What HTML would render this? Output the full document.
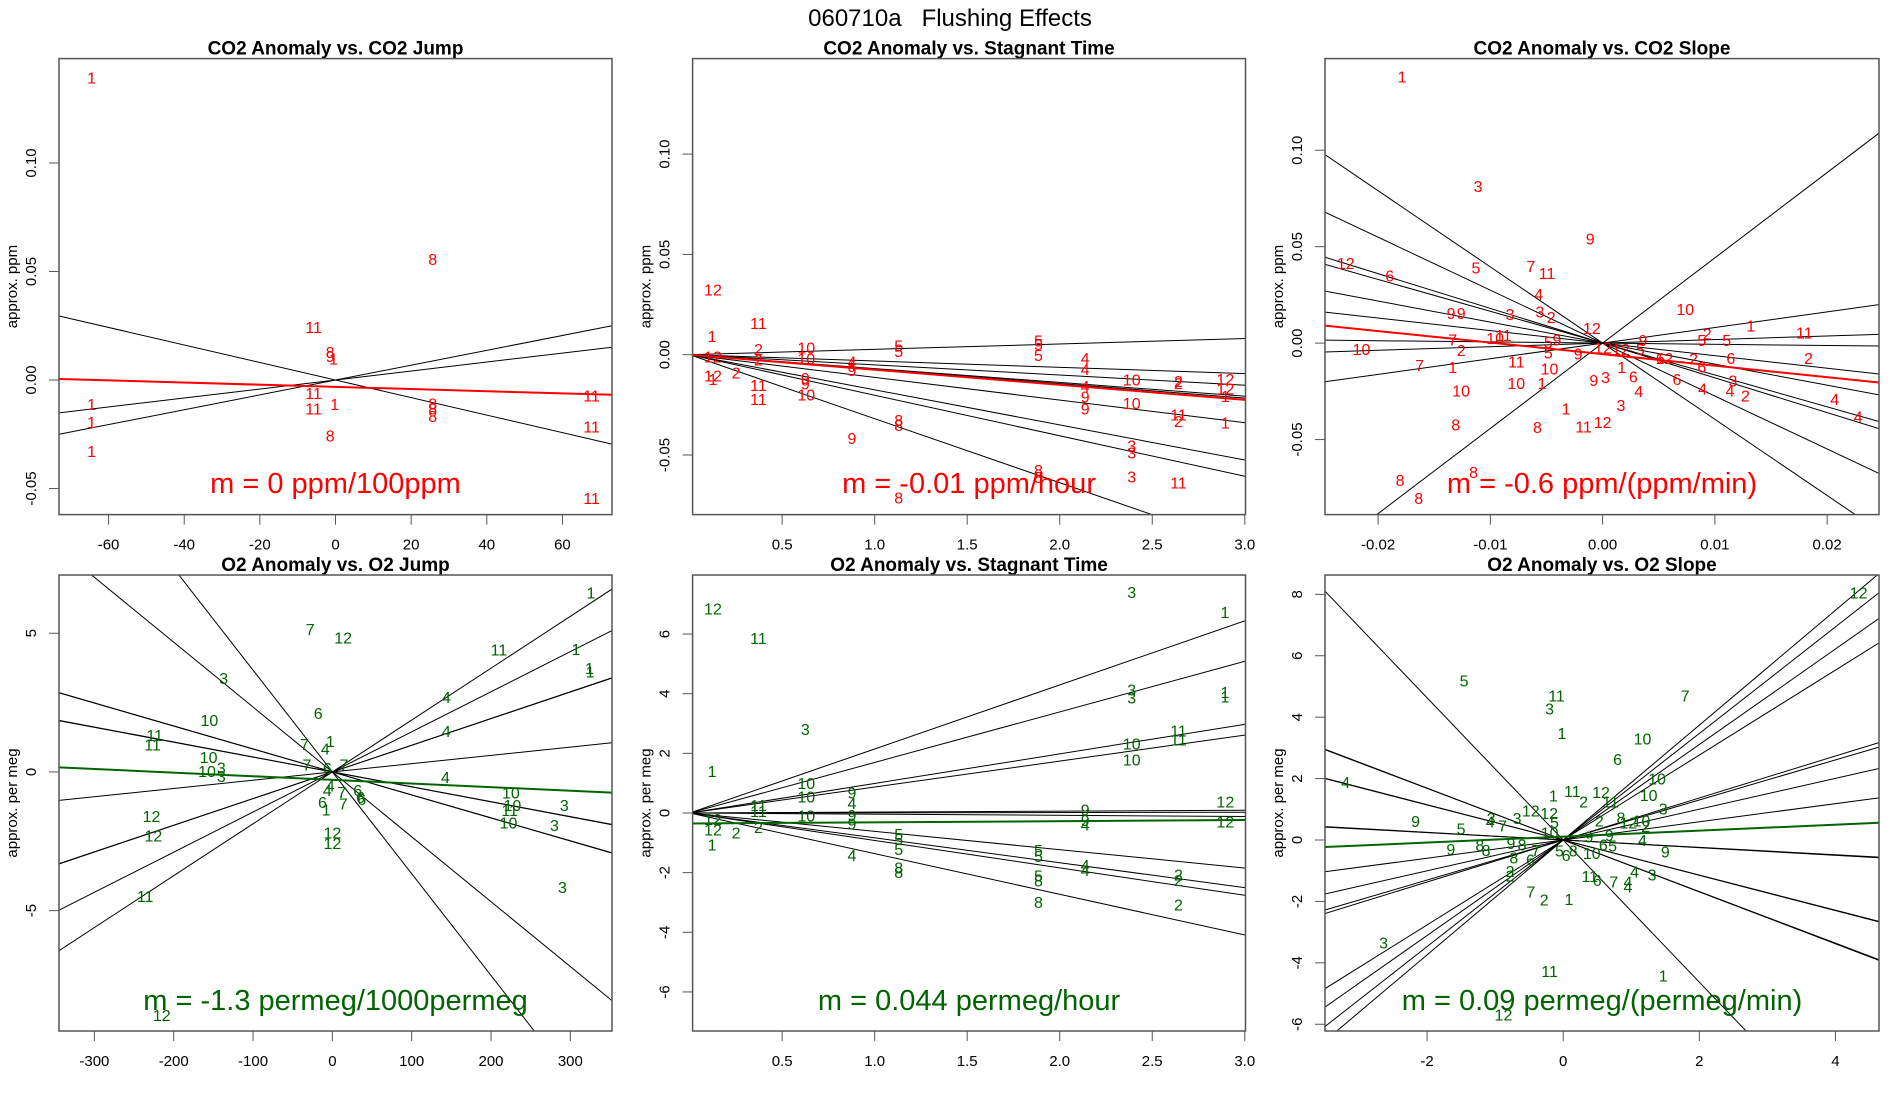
<!DOCTYPE html>
<html><head><meta charset="utf-8"><style>
html,body{margin:0;padding:0;background:#fff;width:1900px;height:1100px;overflow:hidden}
svg{display:block;font-family:"Liberation Sans",Arial,sans-serif}
</style></head><body>
<svg id="chart" width="1900" height="1100" viewBox="0 0 1900 1100">
<text x="950" y="26" text-anchor="middle" font-size="24">060710a&#160;&#160;&#160;Flushing Effects</text>
</svg>
<script>
// ---- Panel 1: CO2 Anomaly vs. CO2 Jump ----
const p1Labels=["1","8","11","8","9","1","11","11","1","1","1","1","8","8","8","8","11","11","11"];
const p1X=[-64.5,25.7,-5.8,-1.4,-1.4,-0.5,-5.8,-5.8,-0.2,-64.5,-64.5,-64.5,-1.4,25.7,25.7,25.7,67.7,67.7,67.7];
const p1Y=[0.1395,0.0558,0.0244,0.013,0.011,0.010,-0.006,-0.013,-0.011,-0.011,-0.0194,-0.0326,-0.0256,-0.0108,-0.0132,-0.0165,-0.0071,-0.0213,-0.0544];
const p1Slopes=[-0.000404,0.000207,0.000342];
const p1Fit=[-0.00005,-0.00315];
// ---- Panel 2: CO2 Anomaly vs. Stagnant Time ----
const p2Labels=["12","11","1","2","2","12","12","1","2","10","10","11","11","9","9","10","4","4","9","5","5","8","8","9","8","5","5","5","4","4","4","9","9","8","8","10","10","3","3","3","2","2","11","2","11","12","12","1","1"];
const p2X=[0.126,0.372,0.121,0.372,0.372,0.126,0.126,0.126,0.251,0.63,0.63,0.372,0.372,0.625,0.625,0.63,0.877,0.877,0.877,1.13,1.13,1.13,1.13,0.877,1.13,1.885,1.885,1.885,2.138,2.138,2.138,2.138,2.138,1.885,1.885,2.389,2.389,2.389,2.389,2.389,2.642,2.642,2.642,2.642,2.642,2.895,2.895,2.895,2.895];
const p2Y=[0.0325,0.0159,0.0094,0.0028,-0.0024,-0.001,-0.0103,-0.012,-0.0089,0.0037,-0.0019,-0.015,-0.022,-0.0117,-0.0143,-0.0199,-0.0033,-0.005,-0.0077,0.0045,0.0019,-0.0325,-0.035,-0.0414,-0.0711,0.0072,0.0054,-0.0002,-0.0016,-0.0072,-0.0156,-0.0208,-0.0269,-0.0575,-0.061,-0.0124,-0.024,-0.0453,-0.0488,-0.0607,-0.013,-0.0142,-0.0299,-0.033,-0.0636,-0.012,-0.0168,-0.0205,-0.0339];
const p2Slopes=[0.00268,-0.00314,-0.00506,-0.0069,-0.0072,-0.0113,-0.0175,-0.0202,-0.0319];
const p2Fit=[-0.0075,0];
// ---- Panel 3: CO2 Anomaly vs. CO2 Slope ----
const p3Labels=["1","3","9","12","6","5","7","11","4","3","3","2","9","9","12","10","1","11","2","5","5","7","10","11","10","2","9","5","5","9","9","5","12","12","6","12","2","6","6","2","7","1","11","10","1","6","9","3","10","1","10","6","4","4","3","4","2","4","4","1","3","12","11","8","8","8","8","8"];
const p3X=[-0.01786,-0.01109,-0.00111,-0.02288,-0.01897,-0.01128,-0.0064,-0.00495,-0.00569,-0.00824,-0.00558,-0.00458,-0.0135,-0.0126,-0.00096,0.00736,0.0132,0.01797,0.00932,0.00884,0.01105,-0.01335,-0.00957,-0.00884,-0.02148,-0.0126,-0.00407,-0.00484,-0.00484,-0.00218,0.00359,0.00336,0.00004,0.00163,0.00514,0.0055,0.0081,0.00884,0.01142,0.01834,-0.0163,-0.01335,-0.00769,-0.00473,0.0017,0.00274,-0.00078,0.00026,-0.00769,-0.0054,-0.0126,0.00662,0.00322,0.00891,0.01161,0.01135,0.01272,0.02067,0.02277,-0.00325,0.00163,0,-0.0017,-0.01309,-0.0058,-0.0115,-0.01804,-0.01638];
const p3Y=[0.1382,0.0815,0.0542,0.0415,0.0351,0.0393,0.04,0.0364,0.0255,0.0151,0.0165,0.0136,0.0155,0.0155,0.0078,0.0178,0.0091,0.0056,0.0051,0.0015,0.0015,0.0018,0.0027,0.0042,-0.0031,-0.0035,0.0018,0.0005,-0.0049,-0.0053,0.0015,-0.0031,-0.0022,-0.0031,-0.0076,-0.0078,-0.008,-0.0122,-0.0076,-0.0076,-0.0113,-0.0125,-0.0095,-0.0131,-0.0125,-0.0173,-0.0191,-0.0176,-0.0207,-0.0207,-0.0245,-0.0185,-0.0249,-0.0235,-0.0195,-0.0245,-0.0271,-0.0289,-0.038,-0.034,-0.0322,-0.0409,-0.0431,-0.0422,-0.0436,-0.0667,-0.0709,-0.0804];
const p3Slopes=[4.42,0.81,0.185,-0.062,-0.65,-1.09,-1.65,-1.80,-2.745,-3.95];
const p3Fit=[-0.598,-0.0057];
// ---- Panel 4: O2 Anomaly vs. O2 Jump ----
const p4Labels=["1","7","12","11","1","1","1","3","4","6","10","4","11","11","7","1","4","10","7","7","6","10","3","3","4","4","4","7","6","6","6","6","1","7","10","10","11","10","3","3","3","12","12","12","12","11","12"];
const p4X=[326,-28,13.6,210,307,324,325,-137,143.6,-17.8,-155,143.6,-224,-226.6,-35,-2.6,-8.9,-156,-32,14.6,-6.3,-158,-140,-140,142.6,-2.6,-6.3,12,32,35.5,37,-12.5,-7.8,13.6,225,227,223.5,222,292.4,280,290,-228,-225.6,0,0,-236,-215];
const p4Y=[6.47,5.15,4.85,4.41,4.44,3.75,3.62,3.39,2.70,2.13,1.87,1.47,1.33,0.99,1.01,1.11,0.84,0.54,0.27,0.27,0.14,0.04,0.16,-0.15,-0.19,-0.49,-0.66,-0.72,-0.66,-0.91,-0.97,-1.08,-1.35,-1.13,-0.75,-1.19,-1.38,-1.82,-1.19,-1.92,-4.14,-1.58,-2.30,-2.18,-2.56,-4.48,-8.76];
const p4Slopes=[-0.00827,-0.00536,0.00298,0.00963,0.01446,0.0187,-0.02339,-0.0367,0.0096,-0.0054,-0.0083];
const p4Fit=[-0.001308,-0.286];
// ---- Panel 5: O2 Anomaly vs. Stagnant Time ----
const p5Labels=["12","11","3","1","3","1","3","3","1","1","11","11","10","10","10","10","9","4","9","9","11","11","10","12","12","2","2","1","4","5","5","5","8","8","5","5","5","8","8","9","9","4","4","4","2","2","2","12","12"];
const p5X=[0.126,0.372,2.389,2.893,0.625,0.121,2.389,2.389,2.893,2.893,2.642,2.642,2.389,2.389,0.63,0.63,0.877,0.877,0.877,0.877,0.372,0.372,0.63,0.126,0.126,0.251,0.372,0.121,0.877,1.13,1.13,1.13,1.13,1.13,1.885,1.885,1.885,1.885,1.885,2.138,2.138,2.138,2.138,2.138,2.642,2.642,2.642,2.895,2.895];
const p5Y=[6.85,5.86,7.41,6.74,2.82,1.41,4.14,3.88,4.06,3.91,2.76,2.47,2.33,1.79,1.0,0.56,0.68,0.33,-0.06,-0.35,0.27,0.06,-0.08,-0.2,-0.55,-0.65,-0.47,-1.06,-1.41,-0.71,-0.88,-1.21,-1.82,-1.98,-1.24,-1.45,-2.09,-2.26,-2.98,0.12,-0.24,-0.39,-1.74,-1.91,-2.06,-2.24,-3.06,0.39,-0.29];
const p5Slopes=[2.147,1.695,0.991,0.870,0.031,0.008,-0.039,-0.615,-0.834,-0.920,-1.363];
const p5Fit=[0.0383,-0.351];
// ---- Panel 6: O2 Anomaly vs. O2 Slope ----
const p6Labels=["12","5","11","3","7","1","10","6","10","4","1","11","12","2","11","10","3","12","12","3","9","4","3","7","5","5","8","12","10","2","2","10","9","9","4","9","8","8","9","8","7","8","6","5","6","8","10","6","5","9","2","2","11","6","7","4","4","4","3","7","2","1","3","11","1","12"];
const p6X=[4.34,-1.457,-0.098,-0.2,1.793,-0.018,1.165,0.799,1.378,-3.195,-0.146,0.134,0.555,0.299,0.695,1.256,1.47,-0.476,-0.207,-0.677,-2.17,-1.073,-1.06,-0.89,-1.5,-0.128,0.848,0.957,1.15,1.213,0.53,-0.2,0.378,0.677,1.165,-1.652,-1.226,-1.134,-0.768,-0.604,-0.402,-0.726,-0.482,-0.055,0.043,0.146,0.42,0.59,0.726,1.5,-0.78,-0.78,0.39,0.5,0.744,1.049,0.951,0.951,1.305,-0.476,-0.28,0.085,-2.64,-0.2,1.47,-0.878];
const p6Y=[8.06,5.19,4.71,4.29,4.71,3.49,3.31,2.63,2.0,1.89,1.45,1.59,1.57,1.26,1.26,1.47,1.02,0.96,0.88,0.71,0.62,0.6,0.71,0.48,0.37,0.59,0.74,0.57,0.63,0.46,0.63,0.25,0.11,0.17,0.0,-0.29,-0.17,-0.32,-0.09,-0.15,-0.32,-0.57,-0.64,-0.35,-0.49,-0.34,-0.43,-0.15,-0.18,-0.38,-1.01,-1.15,-1.18,-1.31,-1.35,-1.03,-1.35,-1.52,-1.12,-1.67,-1.94,-1.92,-3.33,-4.26,-4.41,-5.69];
const p6Slopes=[1.87,1.735,1.555,1.383,0.684,0.652,0.502,0.296,-0.125,-0.575,-0.845,-2.315,-0.84,-0.571,-0.12];
const p6Fit=[0.097,0.11];

const NS="http://www.w3.org/2000/svg";
const svgRoot=document.getElementById('chart');
function el(tag,attrs,parent,txt){const e=document.createElementNS(NS,tag);for(const k in attrs)e.setAttribute(k,attrs[k]);if(txt!==undefined)e.textContent=txt;(parent||svgRoot).appendChild(e);return e;}

function panel(cfg){
  const g=el('g',{});
  
  
  const [L,R,T,B]=cfg.box;
  const sx=v=>L+(v-cfg.xd[0])/(cfg.xd[1]-cfg.xd[0])*(R-L);
  const sy=v=>B-(v-cfg.yd[0])/(cfg.yd[1]-cfg.yd[0])*(B-T);
  const clipId='clip-'+cfg.name;
  const cp=el('clipPath',{id:clipId},g);el('rect',{x:L,y:T,width:R-L,height:B-T},cp);
  const t=el('text',{x:(L+R)/2,y:T-4,'text-anchor':'middle','font-size':19,'font-weight':'bold'},g,cfg.title);
  
  
  const xa=el('g',{},g);
  
  
  const xt=cfg.xticks;
  el('line',{x1:sx(xt[0]),x2:sx(xt[xt.length-1]),y1:B,y2:B,stroke:'#555','stroke-width':1},xa);
  xt.forEach(v=>{
    el('line',{x1:sx(v),x2:sx(v),y1:B,y2:B+10,stroke:'#555','stroke-width':1},xa);
    const tl=el('text',{x:sx(v),y:B+35,'text-anchor':'middle','font-size':15},xa,cfg.xfmt(v));
    
    
  });
  const ya=el('g',{},g);
  
  
  const yt=cfg.yticks;
  el('line',{x1:L,x2:L,y1:sy(yt[0]),y2:sy(yt[yt.length-1]),stroke:'#555','stroke-width':1},ya);
  yt.forEach(v=>{
    el('line',{x1:L-10,x2:L,y1:sy(v),y2:sy(v),stroke:'#555','stroke-width':1},ya);
    const tl=el('text',{x:0,y:0,'text-anchor':'middle','font-size':15,transform:`translate(${L-23},${sy(v)}) rotate(-90)`},ya,cfg.yfmt(v));
    
    
  });
  const yl=el('text',{x:0,y:0,'text-anchor':'middle','font-size':15,transform:`translate(${L-42},${(T+B)/2}) rotate(-90)`},g,cfg.ylab);
  
  
  const pg=el('g',{'clip-path':`url(#${clipId})`},g);
  cfg.slopes.forEach(m=>{
    const ln=el('line',{x1:sx(cfg.xd[0]),y1:sy(m*cfg.xd[0]),x2:sx(cfg.xd[1]),y2:sy(m*cfg.xd[1]),stroke:'#000','stroke-width':1},pg);
    
    
  });
  cfg.labels.forEach((lab,i)=>{
    const p=el('text',{x:sx(cfg.xs[i]),y:sy(cfg.ys[i])+6,'text-anchor':'middle','font-size':16,fill:cfg.color},pg,lab);
    
    
  });
  const f=cfg.fit;
  const fl=el('line',{x1:sx(cfg.xd[0]),y1:sy(f[0]*cfg.xd[0]+f[1]),x2:sx(cfg.xd[1]),y2:sy(f[0]*cfg.xd[1]+f[1]),stroke:cfg.color,'stroke-width':2},pg);
  
  
  const mt=el('text',{x:(L+R)/2,y:cfg.my,'text-anchor':'middle','font-size':29,fill:cfg.color},g,cfg.mtext);
  
  
  el('rect',{x:L,y:T,width:R-L,height:B-T,fill:'none',stroke:'#555','stroke-width':1.5},g);
}
const f2=v=>v.toFixed(2), f1=v=>v.toFixed(1), f0=v=>String(v), fs=v=>(v===0?'0.00':v.toFixed(2));
const rowTop=[58.6,514.6], rowBot=[575,1031];
const C1=[59,612],C2=[692.6,1245.5],C3=[1325,1879];
const red='#ff0000', green='#006400';
panel({name:'co2-jump-panel',title:'CO2 Anomaly vs. CO2 Jump',box:[...C1,...rowTop],xd:[-73.1,73.1],yd:[-0.062,0.1481],xticks:[-60,-40,-20,0,20,40,60],yticks:[-0.05,0,0.05,0.10],xfmt:f0,yfmt:f2,ylab:'approx. ppm',labels:p1Labels,xs:p1X,ys:p1Y,slopes:p1Slopes,fit:p1Fit,color:red,mtext:'m = 0 ppm/100ppm',my:493});
panel({name:'co2-stagnant-panel',title:'CO2 Anomaly vs. Stagnant Time',box:[...C2,...rowTop],xd:[0.016,3.004],yd:[-0.0797,0.1476],xticks:[0.5,1,1.5,2,2.5,3],yticks:[-0.05,0,0.05,0.10],xfmt:f1,yfmt:f2,ylab:'approx. ppm',labels:p2Labels,xs:p2X,ys:p2Y,slopes:p2Slopes,fit:p2Fit,color:red,mtext:'m = -0.01 ppm/hour',my:493});
panel({name:'co2-slope-panel',title:'CO2 Anomaly vs. CO2 Slope',box:[...C3,...rowTop],xd:[-0.02473,0.02462],yd:[-0.0889,0.1475],xticks:[-0.02,-0.01,0,0.01,0.02],yticks:[-0.05,0,0.05,0.10],xfmt:fs,yfmt:f2,ylab:'approx. ppm',labels:p3Labels,xs:p3X,ys:p3Y,slopes:p3Slopes,fit:p3Fit,color:red,mtext:'m = -0.6 ppm/(ppm/min)',my:493});
panel({name:'o2-jump-panel',title:'O2 Anomaly vs. O2 Jump',box:[...C1,...rowBot],xd:[-344.6,352.5],yd:[-9.34,7.10],xticks:[-300,-200,-100,0,100,200,300],yticks:[-5,0,5],xfmt:f0,yfmt:f0,ylab:'approx. per meg',labels:p4Labels,xs:p4X,ys:p4Y,slopes:p4Slopes,fit:p4Fit,color:green,mtext:'m = -1.3 permeg/1000permeg',my:1010});
panel({name:'o2-stagnant-panel',title:'O2 Anomaly vs. Stagnant Time',box:[...C2,...rowBot],xd:[0.016,3.004],yd:[-7.31,7.98],xticks:[0.5,1,1.5,2,2.5,3],yticks:[-6,-4,-2,0,2,4,6],xfmt:f1,yfmt:f0,ylab:'approx. per meg',labels:p5Labels,xs:p5X,ys:p5Y,slopes:p5Slopes,fit:p5Fit,color:green,mtext:'m = 0.044 permeg/hour',my:1010});
panel({name:'o2-slope-panel',title:'O2 Anomaly vs. O2 Slope',box:[...C3,...rowBot],xd:[-3.5,4.64],yd:[-6.22,8.63],xticks:[-2,0,2,4],yticks:[-6,-4,-2,0,2,4,6,8],xfmt:f0,yfmt:f0,ylab:'approx. per meg',labels:p6Labels,xs:p6X,ys:p6Y,slopes:p6Slopes,fit:p6Fit,color:green,mtext:'m = 0.09 permeg/(permeg/min)',my:1010});
</script>
</body></html>
